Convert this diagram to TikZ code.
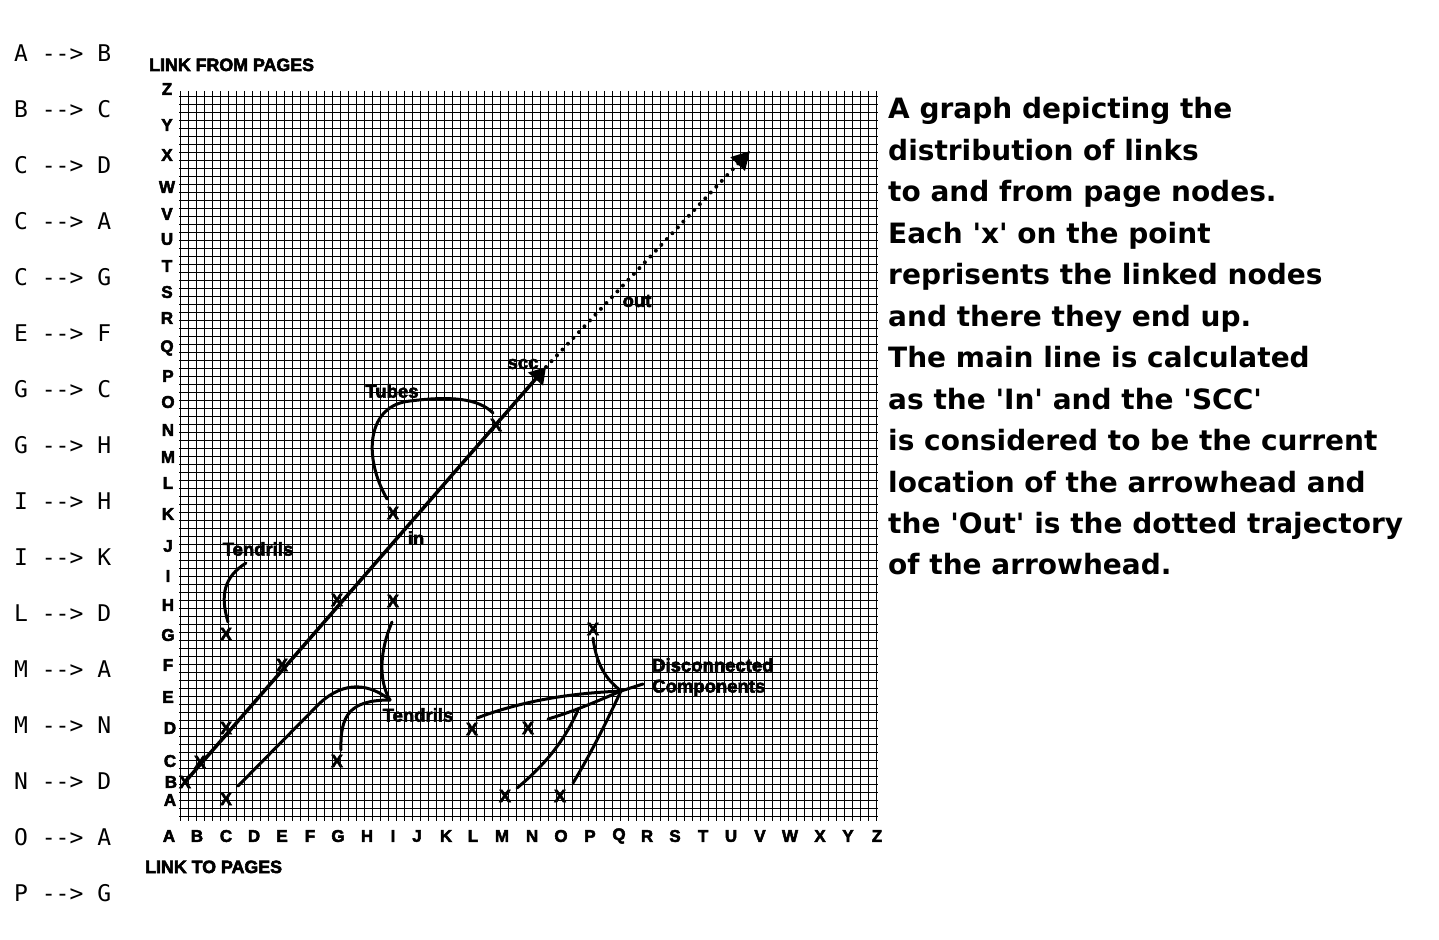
\documentclass[tikz,border=0pt]{standalone}
\usepackage{fontspec}
\usepackage{tikz}
\usetikzlibrary{arrows.meta, calc}
\setmainfont{DejaVu Sans}[Ligatures=TeXOff]
\newfontfamily\axisfont{Liberation Sans}[Ligatures=TeXOff, BoldFeatures={FakeBold=3}]
\newfontfamily\listfont{DejaVu Sans Mono}[Ligatures=TeXOff]
\tikzset{
  gridline/.style={line width=1.4pt, black},
  xmark/.style={inner sep=1pt, font=\axisfont\bfseries\fontsize{18}{18}\selectfont},
  axislabel/.style={inner sep=0pt, font=\axisfont\bfseries\fontsize{17}{17}\selectfont},
  axistitle/.style={inner sep=0pt, anchor=base west,
                    font=\axisfont\bfseries\fontsize{17.8}{18}\selectfont},
  lbl/.style={inner sep=0pt, font=\axisfont\bfseries\fontsize{18.5}{18.5}\selectfont},
  pairtext/.style={inner sep=0pt, anchor=base west, font=\listfont\fontsize{23}{23}\selectfont},
  desc/.style={inner sep=0pt, anchor=base west, font=\bfseries\fontsize{28}{28}\selectfont},
  mainline/.style={line width=3.5pt, -{Triangle[length=16pt,width=19pt]}},
  outpath/.style={line width=4pt, line cap=round, dash pattern=on 0pt off 8pt,
                  -{Triangle[length=18pt,width=19pt]}},
  tendril/.style={line width=3pt, line cap=round},
}

\begin{document}
\begin{tikzpicture}[x=1pt, y=-1pt]
  \useasboundingbox (0,0) rectangle (1439,939);

  % the grid
  \foreach \i in {0,...,87}
    \draw[gridline] ({180.5+8*\i},91) -- ++(0,730);
  \foreach \j in {0,...,90}
    \draw[gridline] (179,{96.5+8*\j}) -- (878,{96.5+8*\j});

  % axis letters
  \foreach \l/\x in {A/169,B/197,C/226,D/254,E/282,F/310,G/338,H/367,I/393,J/417,
                     K/446,L/473,M/502,N/532,O/561,P/590,Q/619,R/647,S/675,T/703,
                     U/731,V/760,W/790,X/820,Y/848,Z/877}
    \node[axislabel] (col\l) at (\x,836) {\l};
  \foreach \l/\x/\y in {Z/167/89,Y/167/125,X/167/155,W/167/187,V/167/214,U/167/239,
                        T/167/266,S/167/292,R/167/318,Q/167/348,P/168/376,O/168/402,
                        N/168/430,M/168/457,L/168/483,K/168/514,J/168/546,I/168/576,
                        H/168/605,G/168/635,F/168/665,E/168/697,D/170/728,C/170/761,
                        B/171/782,A/170/800}
    \node[axislabel] (row\l) at (\x,\y) {\l};
  \node[axistitle] (fromtitle) at (149,71) {LINK FROM PAGES};
  \node[axistitle] (totitle) at (145,873) {LINK TO PAGES};

  % linked nodes
  \foreach \x/\y [count=\k] in {185/782,200/762,226/728,282/665,337/600,393/513,
                                496/425,226/634,393/601,226/799,337/761,472/729,
                                528/728,593/629,505/796,560/796}
    \node[xmark] (pt\k) at (\x,\y) {X};

  % in -> scc -> out
  \coordinate (scc) at (546,367);
  \coordinate (outtip) at (750,151);
  \draw[mainline] (pt1.center) -- (scc);
  \draw[outpath] (scc) -- (outtip);

  % tubes
  \draw[tendril] ($(pt6)+(-6,-14)$) .. controls (362,455) and (368,405) .. (410,401)
                 .. controls (450,396) and (478,398) .. ($(pt7)+(-3,-12)$);

  % tendrils
  \coordinate (tjoin) at (390,700);
  \draw[tendril] ($(pt8)+(2,-12)$) .. controls (220,595) and (224,577) .. (246,563);
  \draw[tendril] ($(pt10)+(12,-13)$) -- (320,703) .. controls (345,680) and (370,684) .. (tjoin);
  \draw[tendril] ($(pt9)+(-1,21)$) .. controls (380,650) and (378,680) .. (tjoin);
  \draw[tendril] ($(pt11)+(4,-11)$) .. controls (340,715) and (350,700) .. (tjoin);

  % disconnected components
  \coordinate (djoin) at (621,691);
  \coordinate (dbranch) at (578,710);
  \draw[tendril] ($(pt14)+(0,9)$) .. controls (597,670) and (610,682) .. (djoin);
  \draw[tendril] ($(pt12)+(5,-11)$) .. controls (530,698) and (580,693) .. (djoin);
  \draw[tendril] ($(pt13)+(20,-9)$) .. controls (575,711) and (600,700) .. (djoin);
  \draw[tendril] ($(pt15)+(12,-8)$) .. controls (545,765) and (565,740) .. (dbranch);
  \draw[tendril] ($(pt16)+(13,-13)$) .. controls (590,755) and (605,725) .. (djoin);
  \draw[tendril] (djoin) -- (643,684);

  % labels in the grid
  \node[lbl] (tubes) at (392,391) {Tubes};
  \node[lbl] (scclbl) at (523,364) {scc};
  \node[lbl] (outlbl) at (637,301) {out};
  \node[lbl] (inlbl) at (416,538) {in};
  \node[lbl] (tendrilsA) at (258,549) {Tendrils};
  \node[lbl] (tendrilsB) at (418,715) {Tendrils};
  \node[lbl, anchor=west] (disc) at (652,665) {Disconnected};
  \node[lbl, anchor=west] (comp) at (652,688) {Components};

  % link list
  \foreach \a/\b [count=\k from 0] in {A/B,B/C,C/D,C/A,C/G,E/F,G/C,G/H,I/H,I/K,
                                       L/D,M/A,M/N,N/D,O/A,P/G}
    \node[pairtext] (pair\k) at (14,{61.5+56*\k}) {\a\ --> \b};

  % description
  \foreach \t [count=\k from 0] in {{A graph depicting the},{distribution of links},
      {to and from page nodes.},{Each 'x' on the point},{reprisents the linked nodes},
      {and there they end up.},{The main line is calculated},{as the 'In' and the 'SCC'},
      {is considered to be the current},{location of the arrowhead and},
      {the 'Out' is the dotted trajectory},{of the arrowhead.}}
    \node[desc] (desc\k) at (888,{119+41.45*\k}) {\t};
\end{tikzpicture}
\end{document}
